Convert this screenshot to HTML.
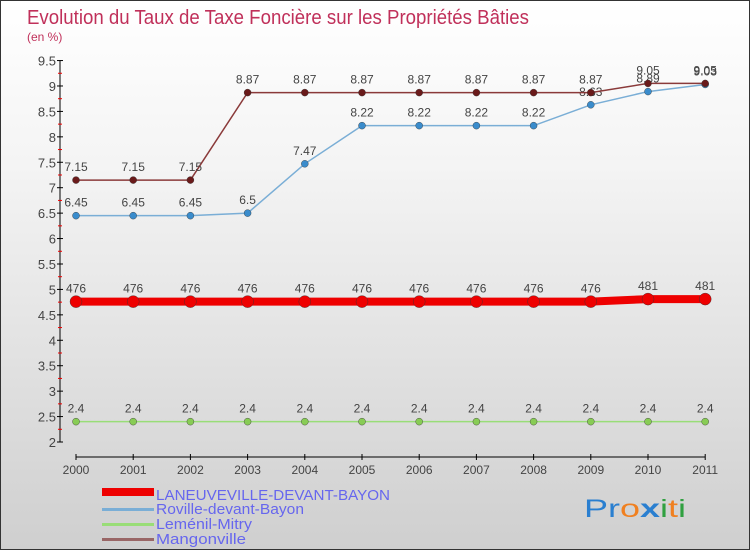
<!DOCTYPE html>
<html><head><meta charset="utf-8"><style>
body{margin:0;}
#wrap{position:relative;width:748px;height:548px;border:1px solid #333;background:linear-gradient(#fff,#f4f4f4 30%,#cfcfcf);overflow:hidden;font-family:"Liberation Sans",sans-serif;}
svg text{font-family:"Liberation Sans",sans-serif;}
</style></head><body>
<div id="wrap">
<svg id="svg" width="748" height="548" xmlns="http://www.w3.org/2000/svg">
<text x="26" y="23" font-size="20" fill="#c0305a" textLength="502" lengthAdjust="spacingAndGlyphs">Evolution du Taux de Taxe Foncière sur les Propriétés Bâties</text>
<text x="26" y="40" font-size="12" fill="#c0305a">(en %)</text>
<g id="axes"></g><g id="series"></g>
<g>
<rect x="101" y="487" width="52" height="8" fill="#e00"/>
<text x="155" y="499" font-size="15" fill="#6666ee" textLength="234" lengthAdjust="spacingAndGlyphs">LANEUVEVILLE-DEVANT-BAYON</text>
<rect x="101" y="507" width="52" height="3" fill="#7aaed6"/>
<text x="155" y="513" font-size="15" fill="#6666ee" textLength="148" lengthAdjust="spacingAndGlyphs">Roville-devant-Bayon</text>
<rect x="101" y="522" width="52" height="3" fill="#99dd77"/>
<text x="155" y="528" font-size="15" fill="#6666ee" textLength="96" lengthAdjust="spacingAndGlyphs">Leménil-Mitry</text>
<rect x="101" y="537" width="52" height="3" fill="#996666"/>
<text x="155" y="543" font-size="15" fill="#6666ee" textLength="90" lengthAdjust="spacingAndGlyphs">Mangonville</text>
</g>
<text x="583" y="516" font-size="25" textLength="102" lengthAdjust="spacingAndGlyphs"><tspan fill="#2a7fd0">Pr</tspan><tspan fill="#f08020">o</tspan><tspan fill="#2a7fd0" font-weight="bold">x</tspan><tspan fill="#30a040">i</tspan><tspan fill="#f08020">t</tspan><tspan fill="#30a040">i</tspan></text>
</svg></div>
<script>
const years=[2000,2001,2002,2003,2004,2005,2006,2007,2008,2009,2010,2011];
const yTicks=[2,2.5,3,3.5,4,4.5,5,5.5,6,6.5,7,7.5,8,8.5,9,9.5];
const laneuveville=[4.76,4.76,4.76,4.76,4.76,4.76,4.76,4.76,4.76,4.76,4.81,4.81];
const laneuvevilleLabels=["476","476","476","476","476","476","476","476","476","476","481","481"];
const roville=[6.45,6.45,6.45,6.5,7.47,8.22,8.22,8.22,8.22,8.63,8.89,9.03];
const lemenil=[2.4,2.4,2.4,2.4,2.4,2.4,2.4,2.4,2.4,2.4,2.4,2.4];
const mangonville=[7.15,7.15,7.15,8.87,8.87,8.87,8.87,8.87,8.87,8.87,9.05,9.05];
const NS="http://www.w3.org/2000/svg";
const X=i=>75+i*57.2, Y=v=>441-(v-2)*50.86;
function mk(t,a,p){const e=document.createElementNS(NS,t);for(const k in a)e.setAttribute(k,a[k]);p.appendChild(e);return e;}
const ax=document.getElementById('axes'),sg=document.getElementById('series');
const yl=mk('line',{x1:59,y1:Y(9.5),x2:59,y2:441,stroke:'#000'},ax);


const xl=mk('line',{x1:X(0),y1:456,x2:X(11),y2:456,stroke:'#000'},ax);


yTicks.forEach(v=>{mk('line',{x1:56,x2:62,y1:Y(v),y2:Y(v),stroke:'#000'},ax);
 if(v<9.5)mk('line',{x1:57,x2:61,y1:Y(v+0.25),y2:Y(v+0.25),stroke:'#e00'},ax);
 const t=mk('text',{x:55,y:Y(v)+5,'font-size':13,fill:'#444','text-anchor':'end'},ax);t.textContent=String(v);
 
 });
years.forEach((yr,i)=>{mk('line',{x1:X(i),x2:X(i),y1:453,y2:459,stroke:'#000'},ax);
 const t=mk('text',{x:X(i),y:473,'font-size':12,fill:'#444','text-anchor':'middle'},ax);t.textContent=yr;
 
 });
function series(vals,labels,color,dot,w,r,name){
 const g=mk('g',{},sg);
 
 
 mk('polyline',{points:vals.map((v,i)=>X(i)+','+Y(v)).join(' '),fill:'none',stroke:color,'stroke-width':w},g);
 vals.forEach((v,i)=>{const c=mk('circle',{cx:X(i),cy:Y(v),r:r,fill:dot,stroke:'#333','stroke-width':0.4},g);
  
  
  const t=mk('text',{x:X(i),y:Y(v)-9,'font-size':12,fill:'#444','text-anchor':'middle'},g);t.textContent=labels?labels[i]:String(v);
  
  });
}
series(lemenil,null,'#99dd77','#88cc55',1.5,3.5,'lemenil');
series(roville,null,'#7aaed6','#3a8ccc',1.5,3.5,'roville');
series(mangonville,null,'#8a3a3a','#6a1a1a',1.5,3.5,'mangonville');
series(laneuveville,laneuvevilleLabels,'#ee0000','#ee0000',8,6,'laneuveville');
</script>
</body></html>
